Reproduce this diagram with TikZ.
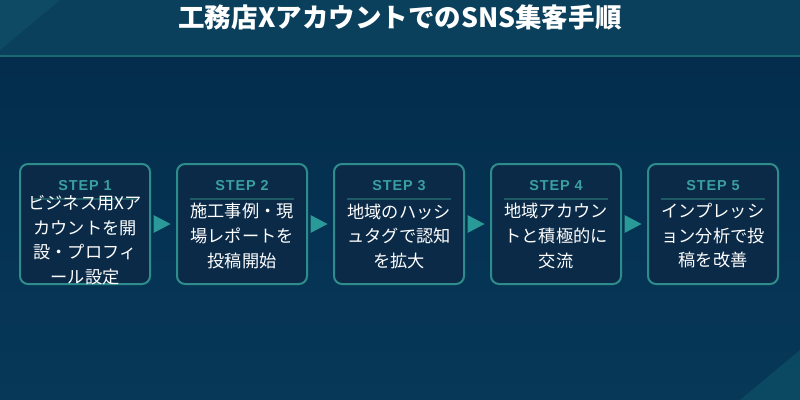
\documentclass[tikz,border=0pt]{standalone}
\usepackage{fontspec}
\setmainfont{Noto Sans CJK JP}
\newfontfamily\labelfont[LetterSpace=6]{Liberation Sans}
\usetikzlibrary{positioning,calc}

\definecolor{titlebar}{HTML}{0A405C}
\definecolor{titleglow}{HTML}{0F4A65}
\definecolor{titleline}{HTML}{1A6872}
\definecolor{bgtop}{HTML}{032B4B}
\definecolor{bgbottom}{HTML}{073858}
\definecolor{cornerglow}{HTML}{0B4862}
\definecolor{boxfill}{HTML}{0A2A47}
\definecolor{boxedge}{HTML}{2E8C8C}
\definecolor{stepteal}{HTML}{3AA0A0}
\definecolor{stepsepline}{HTML}{1E5A66}
\definecolor{arrowteal}{HTML}{2A9A98}

\begin{document}
\begin{tikzpicture}[x=0.75pt, y=-0.75pt,
    stepbox/.style={draw=boxedge, line width=1.5pt, fill=boxfill, rounded corners=6pt, minimum width=97.5pt, minimum height=90pt, inner sep=0pt},
    steplabel/.style={text=stepteal, font=\labelfont\bfseries\fontsize{10.8}{12}\selectfont},
    stepsep/.style={draw=stepsepline, line width=1.2pt},
    bodytext/.style={text=white, align=center, font=\fontsize{12.9}{18.4}\selectfont},
    nextarrow/.style={fill=arrowteal}]
    \useasboundingbox (0,0) rectangle (800,400);

    % background
    \shade[top color=bgtop, bottom color=bgbottom] (0,0) rectangle (800,400);
    \fill[cornerglow] (800,350) -- (800,400) -- (740,400) -- cycle;
    \fill[titlebar] (0,0) rectangle (800,55);
    \fill[titleglow] (0,0) -- (60,0) -- (0,50) -- cycle;
    \draw[titleline, line width=1.5pt] (0,56) -- (800,56);

    \node [text=white, font=\bfseries\fontsize{19.9}{22}\selectfont] (title) at (400,17) {工務店Xアカウントでの\mbox{SNS}集客手順};

    % steps
    \node [stepbox] (step1) at (85,224) {};
    \node [stepbox, right=18.75pt of step1] (step2) {};
    \node [stepbox, right=18.75pt of step2] (step3) {};
    \node [stepbox, right=18.75pt of step3] (step4) {};
    \node [stepbox, right=18.75pt of step4] (step5) {};

    \node [steplabel] (label1) at ([yshift=-17.25pt]step1.north) {STEP 1};
    \node [steplabel] (label2) at ([yshift=-17.25pt]step2.north) {STEP 2};
    \node [steplabel] (label3) at ([yshift=-17.25pt]step3.north) {STEP 3};
    \node [steplabel] (label4) at ([yshift=-17.25pt]step4.north) {STEP 4};
    \node [steplabel] (label5) at ([yshift=-17.25pt]step5.north) {STEP 5};

    \draw[stepsep] ([xshift=-39pt, yshift=-27pt]step1.north) -- ([xshift=39pt, yshift=-27pt]step1.north);
    \draw[stepsep] ([xshift=-39pt, yshift=-27pt]step2.north) -- ([xshift=39pt, yshift=-27pt]step2.north);
    \draw[stepsep] ([xshift=-39pt, yshift=-27pt]step3.north) -- ([xshift=39pt, yshift=-27pt]step3.north);
    \draw[stepsep] ([xshift=-39pt, yshift=-27pt]step4.north) -- ([xshift=39pt, yshift=-27pt]step4.north);
    \draw[stepsep] ([xshift=-39pt, yshift=-27pt]step5.north) -- ([xshift=39pt, yshift=-27pt]step5.north);

    \node [bodytext] (text1) at ([yshift=-12pt]step1.center) {ビジネス用Xア\\カウントを開\\設・プロフィ\\ール設定};
    \node [bodytext] (text2) at ([yshift=-9pt]step2.center) {施工事例・現\\場レポートを\\投稿開始};
    \node [bodytext] (text3) at ([yshift=-9pt]step3.center) {地域のハッシ\\ュタグで認知\\を拡大};
    \node [bodytext] (text4) at ([yshift=-9pt]step4.center) {地域アカウン\\トと積極的に\\交流};
    \node [bodytext] (text5) at ([yshift=-9pt]step5.center) {インプレッシ\\ョン分析で投\\稿を改善};

    % arrows between steps
    \fill[nextarrow] ($(step1.east)!0.5!(step2.west)$) ++(-10,-9) -- ++(17,9) -- ++(-17,9) -- cycle;
    \fill[nextarrow] ($(step2.east)!0.5!(step3.west)$) ++(-10,-9) -- ++(17,9) -- ++(-17,9) -- cycle;
    \fill[nextarrow] ($(step3.east)!0.5!(step4.west)$) ++(-10,-9) -- ++(17,9) -- ++(-17,9) -- cycle;
    \fill[nextarrow] ($(step4.east)!0.5!(step5.west)$) ++(-10,-9) -- ++(17,9) -- ++(-17,9) -- cycle;
\end{tikzpicture}
\end{document}
